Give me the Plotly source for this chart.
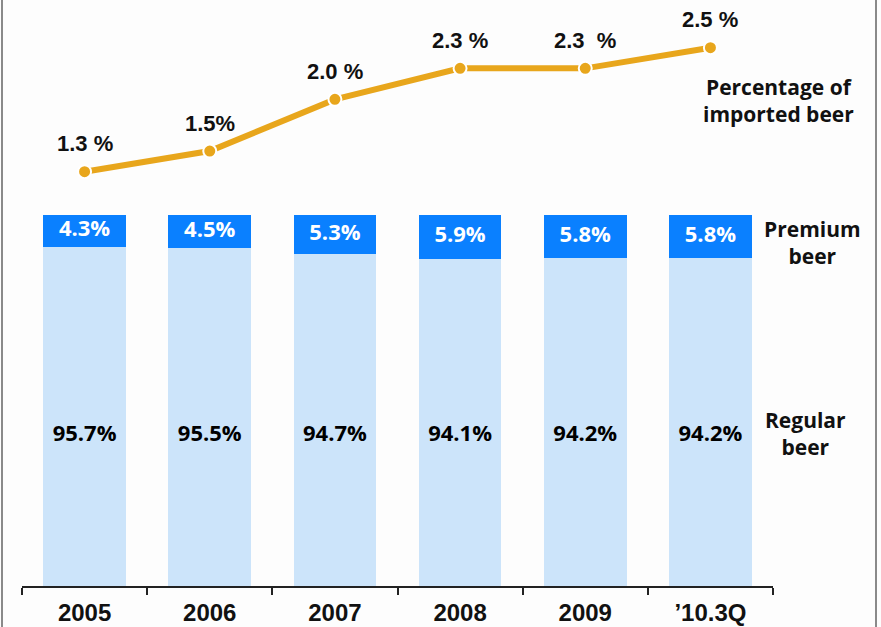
import plotly.graph_objects as go

categories = ["2005", "2006", "2007", "2008", "2009", "’10.3Q"]
regular = [95.7, 95.5, 94.7, 94.1, 94.2, 94.2]
premium = [4.3, 4.5, 5.3, 5.9, 5.8, 5.8]
imported = [1.3, 1.5, 2.0, 2.3, 2.3, 2.5]
imported_labels = ["1.3 %", "1.5%", "2.0 %", "2.3 %", "2.3  %", "2.5 %"]
regular_labels = [f"{v:.1f}%" for v in regular]
premium_labels = [f"{v:.1f}%" for v in premium]

W, H = 881, 627
ML, MR, MT, MB = 22, 108, 10, 41
Y_LOW, Y_HIGH = 50, 100

fig = go.Figure()

fig.add_trace(go.Bar(
    x=categories, y=regular, textposition="none",
    marker=dict(color="#CCE4FA", line=dict(width=0)),
    width=0.66, yaxis="y", name="Regular beer", hoverinfo="skip",
))
fig.add_trace(go.Bar(
    x=categories, y=premium, textposition="none",
    marker=dict(color="#0A80FF", line=dict(width=0)),
    width=0.66, yaxis="y", name="Premium beer", hoverinfo="skip",
))
fig.add_trace(go.Scatter(
    x=categories, y=[70.3] * len(categories), mode="text",
    text=regular_labels, textposition="middle center",
    textfont=dict(family="Open Sans", size=22, color="#000000", weight="bold"),
    yaxis="y", hoverinfo="skip",
))
fig.add_trace(go.Scatter(
    x=categories, y=[r + p / 2 for r, p in zip(regular, premium)], mode="text",
    text=premium_labels, textposition="middle center",
    textfont=dict(family="Open Sans", size=22, color="#FFFFFF", weight="bold"),
    yaxis="y", hoverinfo="skip",
))
fig.add_trace(go.Scatter(
    x=categories, y=imported, mode="lines+markers",
    line=dict(color="#E8A61C", width=6),
    marker=dict(color="#E8A61C", size=13, line=dict(color="#FFFFFF", width=2)),
    yaxis="y2", xaxis="x", name="Percentage of imported beer", cliponaxis=False,
))

for i, (v, t) in enumerate(zip(imported, imported_labels)):
    fig.add_annotation(
        x=i, y=v, xref="x", yref="y2", text=t, showarrow=False,
        yshift=28, yanchor="middle", xanchor="center",
        font=dict(family="Liberation Sans", size=22, color="#111111", weight="bold"),
    )

plot_h = H - MT - MB
bar_top_px = 215
bar_dom_top = (H - MB - bar_top_px) / plot_h
line_dom_bottom = (H - MB - 200) / plot_h

fig.update_layout(
    width=W, height=H,
    margin=dict(l=ML, r=MR, t=MT, b=MB, autoexpand=False),
    barmode="stack", bargap=0.34,
    paper_bgcolor="#FDFDFD", plot_bgcolor="rgba(0,0,0,0)",
    showlegend=False,
    xaxis=dict(
        type="category", range=[-0.5, 5.5], tickson="boundaries",
        showline=True, linecolor="#222222", linewidth=2,
        ticks="outside", ticklen=7, tickwidth=2, tickcolor="#222222",
        ticklabelstandoff=4, automargin=False,
        showgrid=False, zeroline=False,
        tickfont=dict(family="Liberation Sans", size=24, color="#111111", weight="bold"),
        anchor="y",
    ),
    yaxis=dict(
        domain=[0, bar_dom_top], range=[Y_LOW, Y_HIGH],
        visible=False, showgrid=False, zeroline=False,
    ),
    yaxis2=dict(
        domain=[line_dom_bottom, 1], range=[1.026, 2.865],
        visible=False, showgrid=False, zeroline=False, anchor="x",
    ),
)

def px_to_paper_x(px):
    return (px - ML) / (W - ML - MR)

def px_to_paper_y(py):
    return (H - MB - py) / plot_h

side_labels = [
    ("Percentage of<br>imported beer", 778, 100),
    ("Premium<br>beer", 813, 243),
    ("Regular<br>beer", 805, 433),
]
for txt, px, py in side_labels:
    fig.add_annotation(
        text=txt, xref="paper", yref="paper",
        x=px_to_paper_x(px), y=px_to_paper_y(py),
        xanchor="center", yanchor="middle", showarrow=False,
        font=dict(family="Open Sans", size=21, color="#111111", weight="bold"),
        align="center",
    )

for xp in (2, 876):
    fig.add_shape(
        type="line", xref="paper", yref="paper",
        x0=px_to_paper_x(xp), x1=px_to_paper_x(xp),
        y0=px_to_paper_y(H), y1=px_to_paper_y(0),
        line=dict(color="#8A8A8A", width=2),
    )

fig.write_html("out.html")
